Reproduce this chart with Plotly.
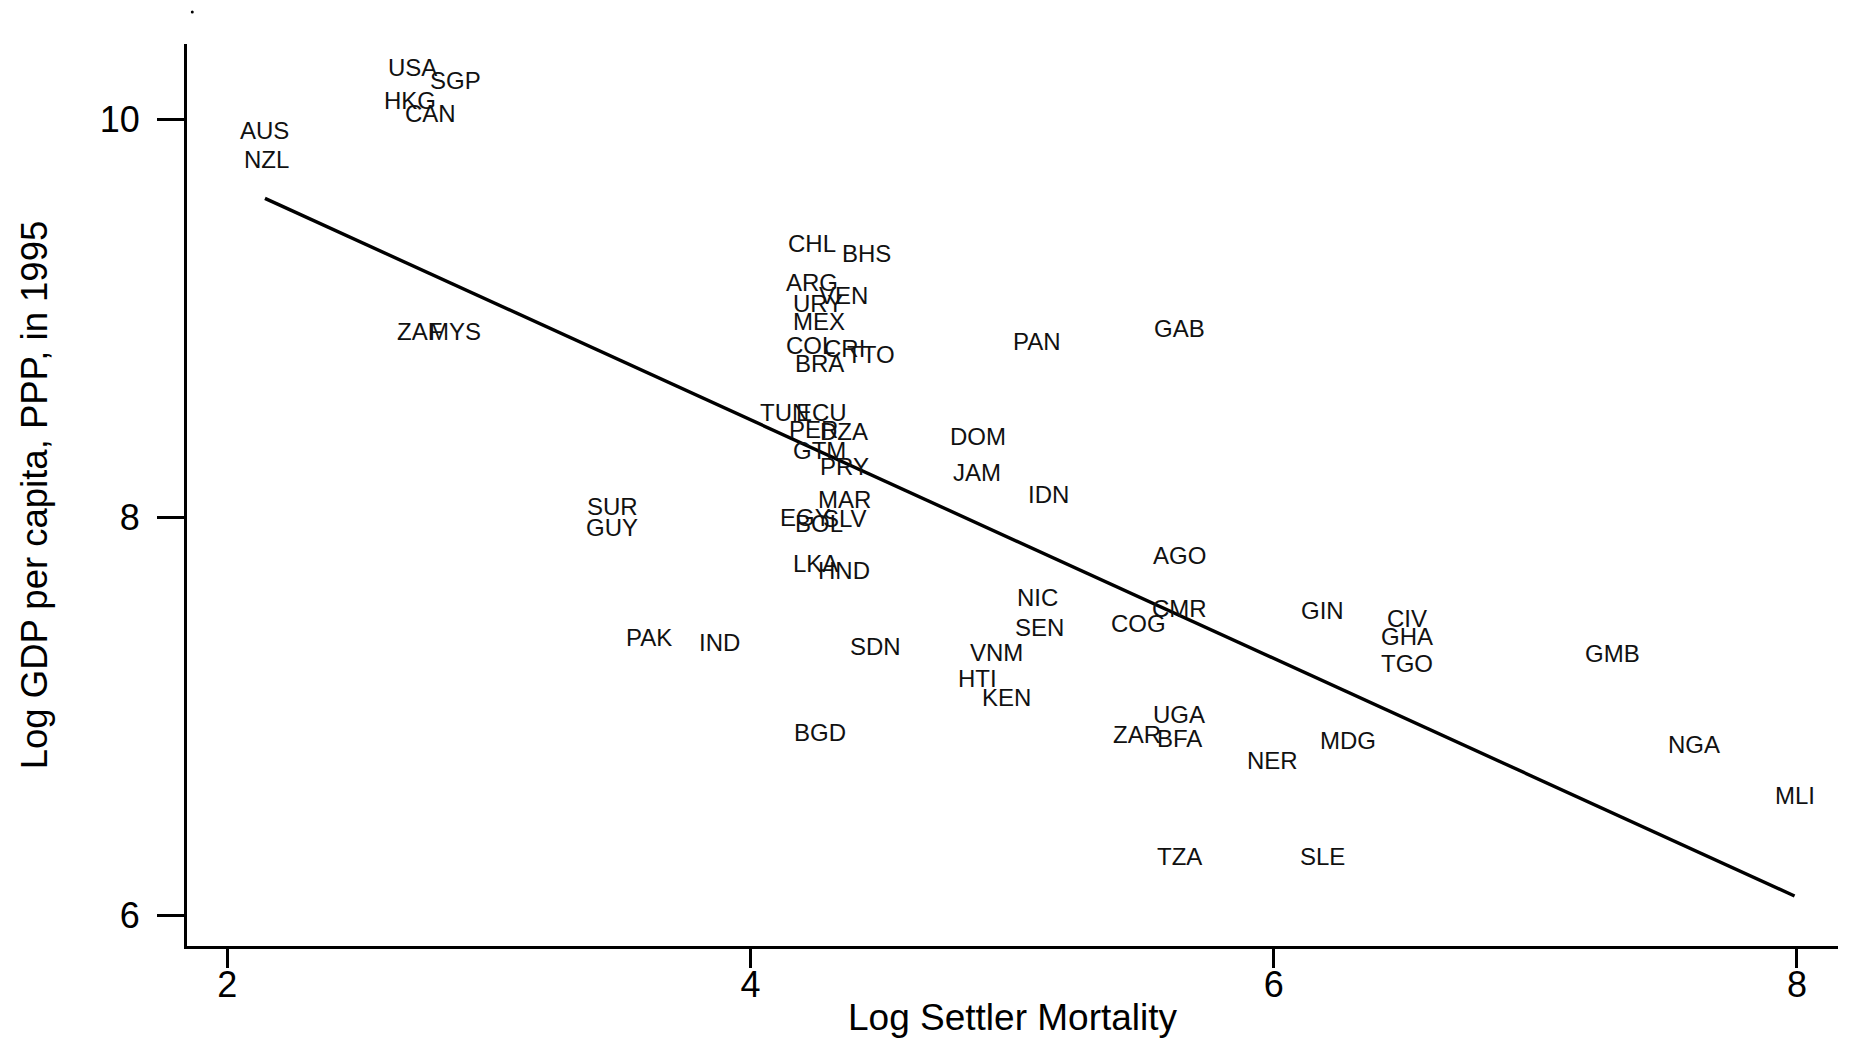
import plotly.graph_objects as go

# Country codes, log settler mortality (x) and log GDP per capita 1995 (y)
countries = ["USA", "SGP", "HKG", "CAN", "AUS", "NZL", "ZAF", "MYS",
             "CHL", "BHS", "ARG", "VEN", "URY", "MEX", "COL", "CRI", "TTO", "BRA",
             "PAN", "GAB", "TUN", "ECU", "PER", "DZA", "GTM", "PRY",
             "DOM", "JAM", "IDN", "MAR", "SLV", "EGY", "BOL", "SUR", "GUY",
             "LKA", "HND", "AGO", "NIC", "CMR", "GIN", "CIV", "COG", "SEN", "GHA",
             "PAK", "IND", "SDN", "VNM", "GMB", "TGO", "HTI", "KEN", "UGA", "BGD",
             "ZAR", "BFA", "MDG", "NGA", "NER", "MLI", "TZA", "SLE"]
log_mortality = [2.709, 2.871, 2.700, 2.777, 2.144, 2.149, 2.736, 2.871,
                 4.235, 4.442, 4.235, 4.357, 4.257, 4.262, 4.230, 4.361, 4.460, 4.262,
                 5.097, 5.639, 4.131, 4.271, 4.239, 4.357, 4.262, 4.361,
                 4.871, 4.867, 5.138, 4.361, 4.361, 4.212, 4.262, 3.472, 3.472,
                 4.248, 4.357, 5.639, 5.097, 5.639, 6.185, 6.510, 5.485, 5.106, 6.510,
                 3.612, 3.883, 4.479, 4.939, 7.296, 6.510, 4.867, 4.980, 5.639, 4.266,
                 5.479, 5.639, 6.284, 7.607, 5.995, 7.991, 5.639, 6.185]
log_gdp = [10.261, 10.196, 10.095, 10.030, 9.941, 9.798, 8.932, 8.932,
           9.377, 9.323, 9.181, 9.116, 9.074, 8.982, 8.861, 8.849, 8.819, 8.772,
           8.884, 8.950, 8.528, 8.528, 8.439, 8.433, 8.338, 8.255,
           8.404, 8.228, 8.113, 8.092, 7.994, 8.000, 7.970, 8.053, 7.947,
           7.769, 7.733, 7.810, 7.596, 7.543, 7.531, 7.490, 7.469, 7.448, 7.404,
           7.395, 7.371, 7.353, 7.323, 7.318, 7.264, 7.193, 7.098, 7.009, 6.920,
           6.908, 6.890, 6.878, 6.861, 6.777, 6.605, 6.297, 6.297]

# Fitted regression line
fit_intercept = 10.886
fit_slope = -0.599

x_ticks = [2, 4, 6, 8]
y_ticks = [6, 8, 10]
x_title = "Log Settler Mortality"
y_title = "Log GDP per capita, PPP, in 1995"

FONT = "Liberation Sans, Arial, Helvetica, sans-serif"

fit_x = [min(log_mortality), max(log_mortality)]
fit_y = [fit_intercept + fit_slope * v for v in fit_x]

fig = go.Figure()
fig.add_trace(go.Scatter(
    x=fit_x, y=fit_y, mode="lines",
    line=dict(color="black", width=3.4), hoverinfo="skip", showlegend=False))

# Country labels (centred on each data point)
for name, xv, yv in zip(countries, log_mortality, log_gdp):
    fig.add_annotation(x=xv, y=yv, xref="x", yref="y", text=name,
                       showarrow=False, xanchor="center", yanchor="middle",
                       font=dict(family=FONT, size=24, color="#111111"))

# The page body adds an 8px offset, so the figure is 8px smaller on each side
fig.update_layout(
    width=1844, height=1033,
    margin=dict(l=179, r=14, t=36, b=95),
    paper_bgcolor="white", plot_bgcolor="white",
    font=dict(family=FONT, color="black"),
    showlegend=False,
)
fig.update_xaxes(
    range=[1.846, 8.157], tickvals=x_ticks, ticktext=[str(v) for v in x_ticks],
    showgrid=False, zeroline=False, showline=True, linecolor="black", linewidth=3,
    ticks="outside", ticklen=19, tickwidth=3, tickcolor="black",
    tickfont=dict(family=FONT, size=36, color="black"),
    ticklabelstandoff=-14, automargin=False,
)
fig.update_yaxes(
    range=[5.848, 10.377], tickvals=y_ticks, ticktext=[str(v) for v in y_ticks],
    showgrid=False, zeroline=False, showline=True, linecolor="black", linewidth=3,
    ticks="outside", ticklen=27, tickwidth=3, tickcolor="black",
    tickfont=dict(family=FONT, size=36, color="black"),
    ticklabelstandoff=10, automargin=False,
)
fig.add_annotation(xref="paper", yref="paper", x=0.5, y=-0.0797, text=x_title,
                   showarrow=False, font=dict(family=FONT, size=37, color="black"),
                   xanchor="center", yanchor="middle")
fig.add_annotation(xref="paper", yref="paper", x=-0.0925, y=0.5, text=y_title,
                   showarrow=False, textangle=-90,
                   font=dict(family=FONT, size=36.5, color="black"),
                   xanchor="center", yanchor="middle")
fig.add_shape(type="circle", xref="paper", yref="paper",
              x0=0.0023, x1=0.0041, y0=1.0338, y1=1.0372,
              fillcolor="black", line=dict(width=0))

fig.write_html("out.html")
